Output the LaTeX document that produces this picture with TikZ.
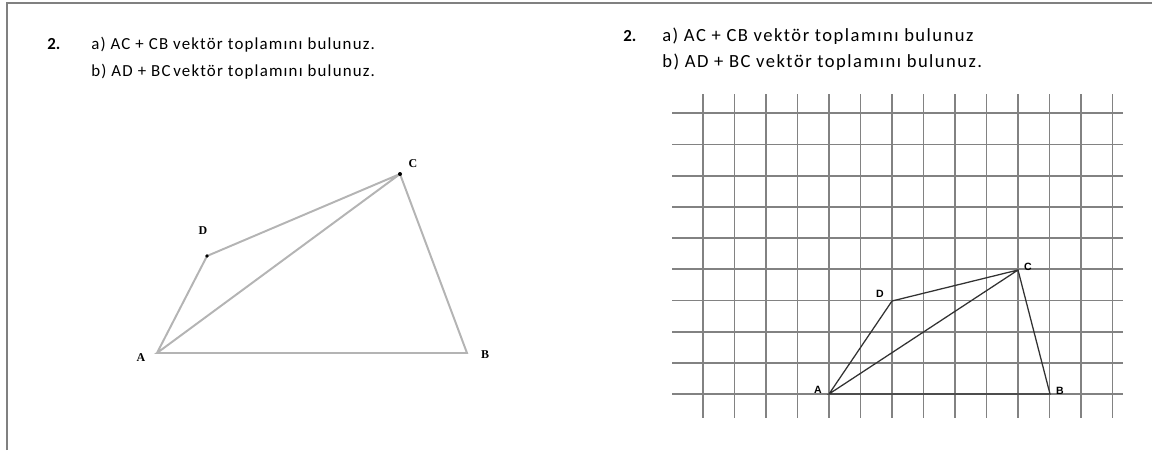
\documentclass[tikz,border=0pt]{standalone}
\usepackage{fontspec}
\setmainfont{Carlito}
\newfontfamily\lefttext[LetterSpace=7]{Carlito}
\newfontfamily\righttext[LetterSpace=8]{Carlito}
\newfontfamily\labelserif{Liberation Serif}
\newfontfamily\labelsans{Liberation Sans}
\usepackage{xcolor}
\definecolor{frameg}{RGB}{128,128,128}
\definecolor{sketchg}{RGB}{180,180,180}
\definecolor{gridg}{RGB}{130,130,130}
\definecolor{edgeg}{RGB}{50,50,50}
\usetikzlibrary{positioning}
\tikzset{
  qtext/.style={anchor=base west, inner sep=0pt, font=\lefttext\fontsize{12}{14}\selectfont},
  qnum/.style={anchor=base west, inner sep=0pt, font=\fontsize{12}{14}\selectfont\bfseries},
  rtext/.style={anchor=base west, inner sep=0pt, font=\righttext\fontsize{13.2}{15}\selectfont},
  slabel/.style={inner sep=0pt, font=\labelserif\fontsize{8.5}{9}\selectfont\bfseries},
  glabel/.style={inner sep=0pt, font=\labelsans\fontsize{7.5}{9}\selectfont\bfseries},
  sketch/.style={draw=sketchg, line width=1.4pt},
  gline/.style={draw=gridg, line width=1.2pt},
  gedge/.style={draw=edgeg, line width=0.9pt},
}

\begin{document}
\begin{tikzpicture}[x=0.025cm, y=-0.025cm]
\useasboundingbox (0,0) rectangle (1152,450);

% --- Frame ---
\draw[frameg, line width=1.2pt] (7,450) -- (7,3) -- (1152,3);

% --- Left question ---
\node[qnum] (lnum) at (47,49) {2.};
\node[qtext] (la) at (91,49) {a) AC + CB vektör toplamını bulunuz.};
\node[qtext] (lb) at (91,76) {b) AD + BC\,vektör toplamını bulunuz.};

% Sketch quadrilateral
\coordinate (A) at (157,353);
\coordinate (B) at (467,353);
\coordinate (C) at (400,174);
\coordinate (D) at (207,256);
\draw[sketch] (A) -- (D) -- (C) -- (B) -- (A) -- (C);
\fill[black] (C) circle (2);
\fill[black] (D) circle (1.8);
\node[slabel] (lA) at (141,358) {A};
\node[slabel] (lB) at (485,355) {B};
\node[slabel] (lC) at (413,164) {C};
\node[slabel] (lD) at (203,231) {D};

% --- Right question ---
\node[qnum] (rnum) at (623,41) {2.};
\node[rtext] (ra) at (662,41) {a) AC + CB vektör toplamını bulunuz};
\node[rtext] (rb) at (662,67) {b) AD + BC vektör toplamını bulunuz.};

% Grid
\foreach \i in {0,...,9}
  \draw[gline] (672,113.3+31.2*\i) -- (1123,113.3+31.2*\i);
\foreach \j in {0,...,13}
  \draw[gline] (703+31.5*\j,94) -- (703+31.5*\j,418);

% Quadrilateral on the grid
\coordinate (gA) at (829,394);
\coordinate (gB) at (1050,394);
\coordinate (gC) at (1018,270);
\coordinate (gD) at (892,301);
\draw[gedge] (gA) -- (gD) -- (gC) -- (gB) -- (gA) -- (gC);
\node[glabel] (tA) at (818,390) {A};
\node[glabel] (tB) at (1060,391) {B};
\node[glabel] (tC) at (1028,267) {C};
\node[glabel] (tD) at (880,294) {D};

\end{tikzpicture}
\end{document}
